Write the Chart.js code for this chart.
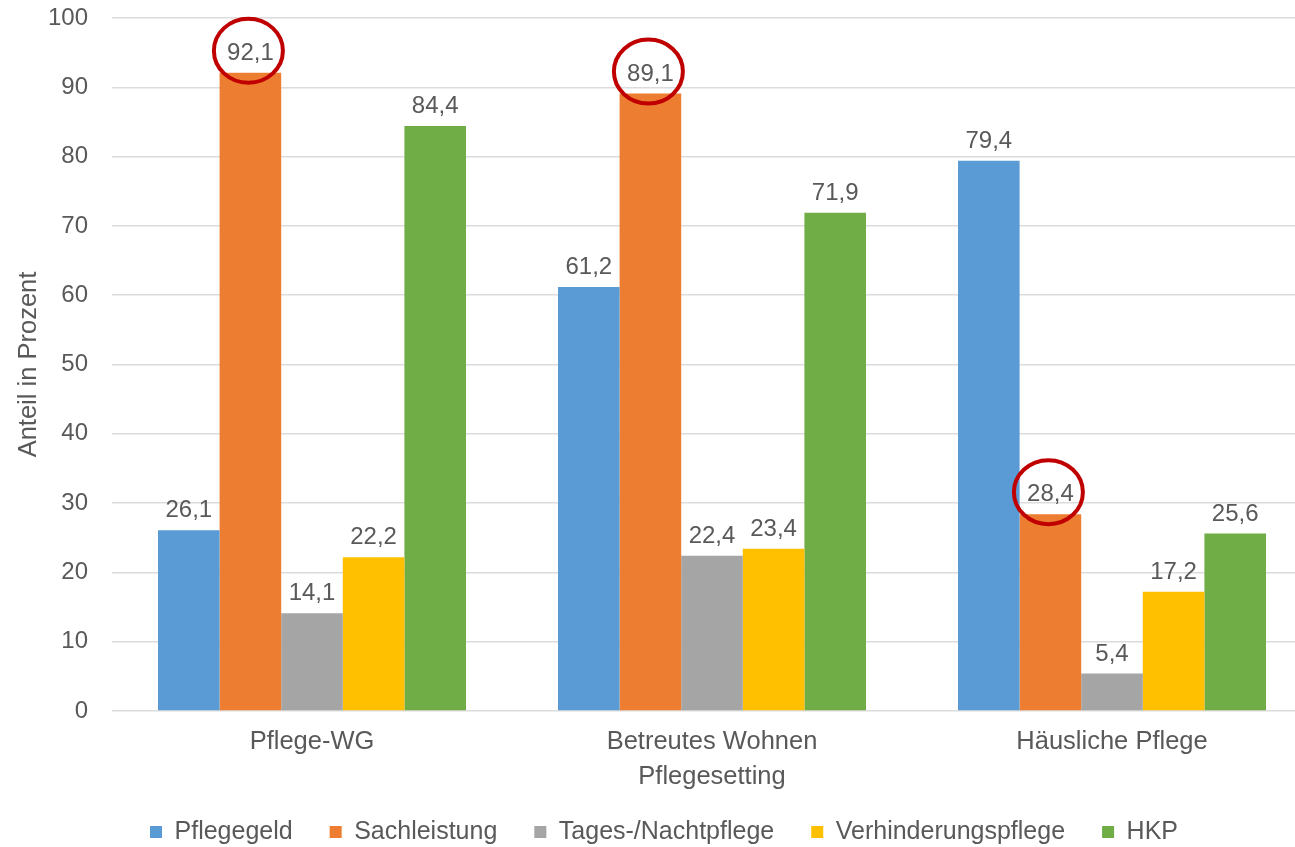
<!DOCTYPE html>
<html lang="de">
<head>
<meta charset="utf-8">
<title>Leistungsbezug nach Pflegesetting</title>
<script src="https://cdn.jsdelivr.net/npm/chart.js@4.4.1/dist/chart.umd.min.js"></script>
<style>
  html, body { margin: 0; padding: 0; background: #ffffff; overflow: hidden; }
  #wrap { position: relative; width: 1328px; height: 847px; }
</style>
</head>
<body>
<div id="wrap"><canvas id="chart"></canvas></div>
<script>
// Pflegesettings (Kategorien)
const categories = ['Pflege-WG', 'Betreutes Wohnen', 'Häusliche Pflege'];

// Leistungsarten (Reihen)
const seriesNames = ['Pflegegeld', 'Sachleistung', 'Tages-/Nachtpflege', 'Verhinderungspflege', 'HKP'];

// Anteil in Prozent je Setting
const pflegegeld          = [26.1, 61.2, 79.4];
const sachleistung        = [92.1, 89.1, 28.4];
const tagesNachtpflege    = [14.1, 22.4, 5.4];
const verhinderungspflege = [22.2, 23.4, 17.2];
const hkp                 = [84.4, 71.9, 25.6];

// Achsenteilung
const yMin = 0;
const yMax = 100;
const yStep = 10;

// Hervorgehobene Werte: [Reihe, Setting]
const highlighted = [[1, 0], [1, 1], [1, 2]];

const seriesValues = [pflegegeld, sachleistung, tagesNachtpflege, verhinderungspflege, hkp];
const seriesColors = ['#5B9BD5', '#ED7D31', '#A5A5A5', '#FFC000', '#70AD47'];

const FONT = '"Liberation Sans", Arial, Helvetica, sans-serif';
const TEXT = '#595959';

const fmt = v => v.toFixed(1).replace('.', ',');

// Wertbeschriftungen über den Säulen
const valueLabels = {
  id: 'valueLabels',
  afterDatasetsDraw(chart) {
    const ctx = chart.ctx;
    ctx.save();
    ctx.font = '24px ' + FONT;
    ctx.fillStyle = TEXT;
    ctx.textAlign = 'center';
    ctx.textBaseline = 'alphabetic';
    chart.data.datasets.forEach((ds, di) => {
      const meta = chart.getDatasetMeta(di);
      meta.data.forEach((bar, i) => {
        ctx.fillText(fmt(ds.data[i]), bar.x, bar.y - 13);
      });
    });
    ctx.restore();
  }
};

// Rote Markierungskreise um ausgewählte Werte
const highlightRings = {
  id: 'highlightRings',
  afterDraw(chart) {
    const ctx = chart.ctx;
    ctx.save();
    ctx.strokeStyle = '#C00000';
    ctx.lineWidth = 4;
    highlighted.forEach(([di, i]) => {
      const bar = chart.getDatasetMeta(di).data[i];
      ctx.beginPath();
      ctx.ellipse(bar.x - 2, bar.y - 22, 34.5, 32, 0, 0, Math.PI * 2);
      ctx.stroke();
    });
    ctx.restore();
  }
};

// Legende eng an die Unterkante setzen
const legendFit = {
  id: 'legendFit',
  afterInit(chart) {
    const legend = chart.legend;
    if (!legend) return;
    const origFit = legend.fit;
    legend.fit = function () {
      origFit.call(this);
      this.height = 64.5;
    };
  }
};

new Chart(document.getElementById('chart'), {
  type: 'bar',
  data: {
    labels: categories,
    datasets: seriesNames.map((name, k) => ({
      label: name,
      data: seriesValues[k],
      backgroundColor: seriesColors[k],
      borderWidth: 0,
      categoryPercentage: 0.77,
      barPercentage: 1.0
    }))
  },
  options: {
    responsive: true,
    maintainAspectRatio: false,
    animation: false,
    devicePixelRatio: 1,
    layout: { padding: { top: 18, right: 16, left: 16, bottom: 0 } },
    plugins: {
      tooltip: { enabled: false },
      title: { display: false },
      legend: {
        position: 'bottom',
        align: 'center',
        labels: {
          font: { family: FONT, size: 25 },
          color: TEXT,
          boxWidth: 12,
          boxHeight: 12,
          padding: 37
        }
      }
    },
    scales: {
      x: {
        grid: { display: false, drawTicks: false },
        border: { display: false },
        ticks: {
          font: { family: FONT, size: 25.5 },
          color: TEXT,
          padding: 16,
          maxRotation: 0,
          autoSkip: false
        },
        title: {
          display: true,
          text: 'Pflegesetting',
          font: { family: FONT, size: 25.5 },
          color: TEXT,
          padding: { top: 0, bottom: -10 }
        },
        afterFit(scale) { scale.height = 71.5; }
      },
      y: {
        min: yMin,
        max: yMax,
        grid: { color: '#DCDCDC', lineWidth: 1.5, drawTicks: false },
        border: { display: false },
        ticks: {
          stepSize: yStep,
          font: { family: FONT, size: 24 },
          color: TEXT,
          padding: 24
        },
        title: {
          display: true,
          text: 'Anteil in Prozent',
          font: { family: FONT, size: 25.5 },
          color: TEXT,
          padding: { top: -2, bottom: 0 }
        },
        afterFit(scale) {
          scale.width = 96;
          scale.paddingTop = 0;
          scale.paddingBottom = 0;
        }
      }
    }
  },
  plugins: [valueLabels, highlightRings, legendFit]
});
</script>
</body>
</html>
